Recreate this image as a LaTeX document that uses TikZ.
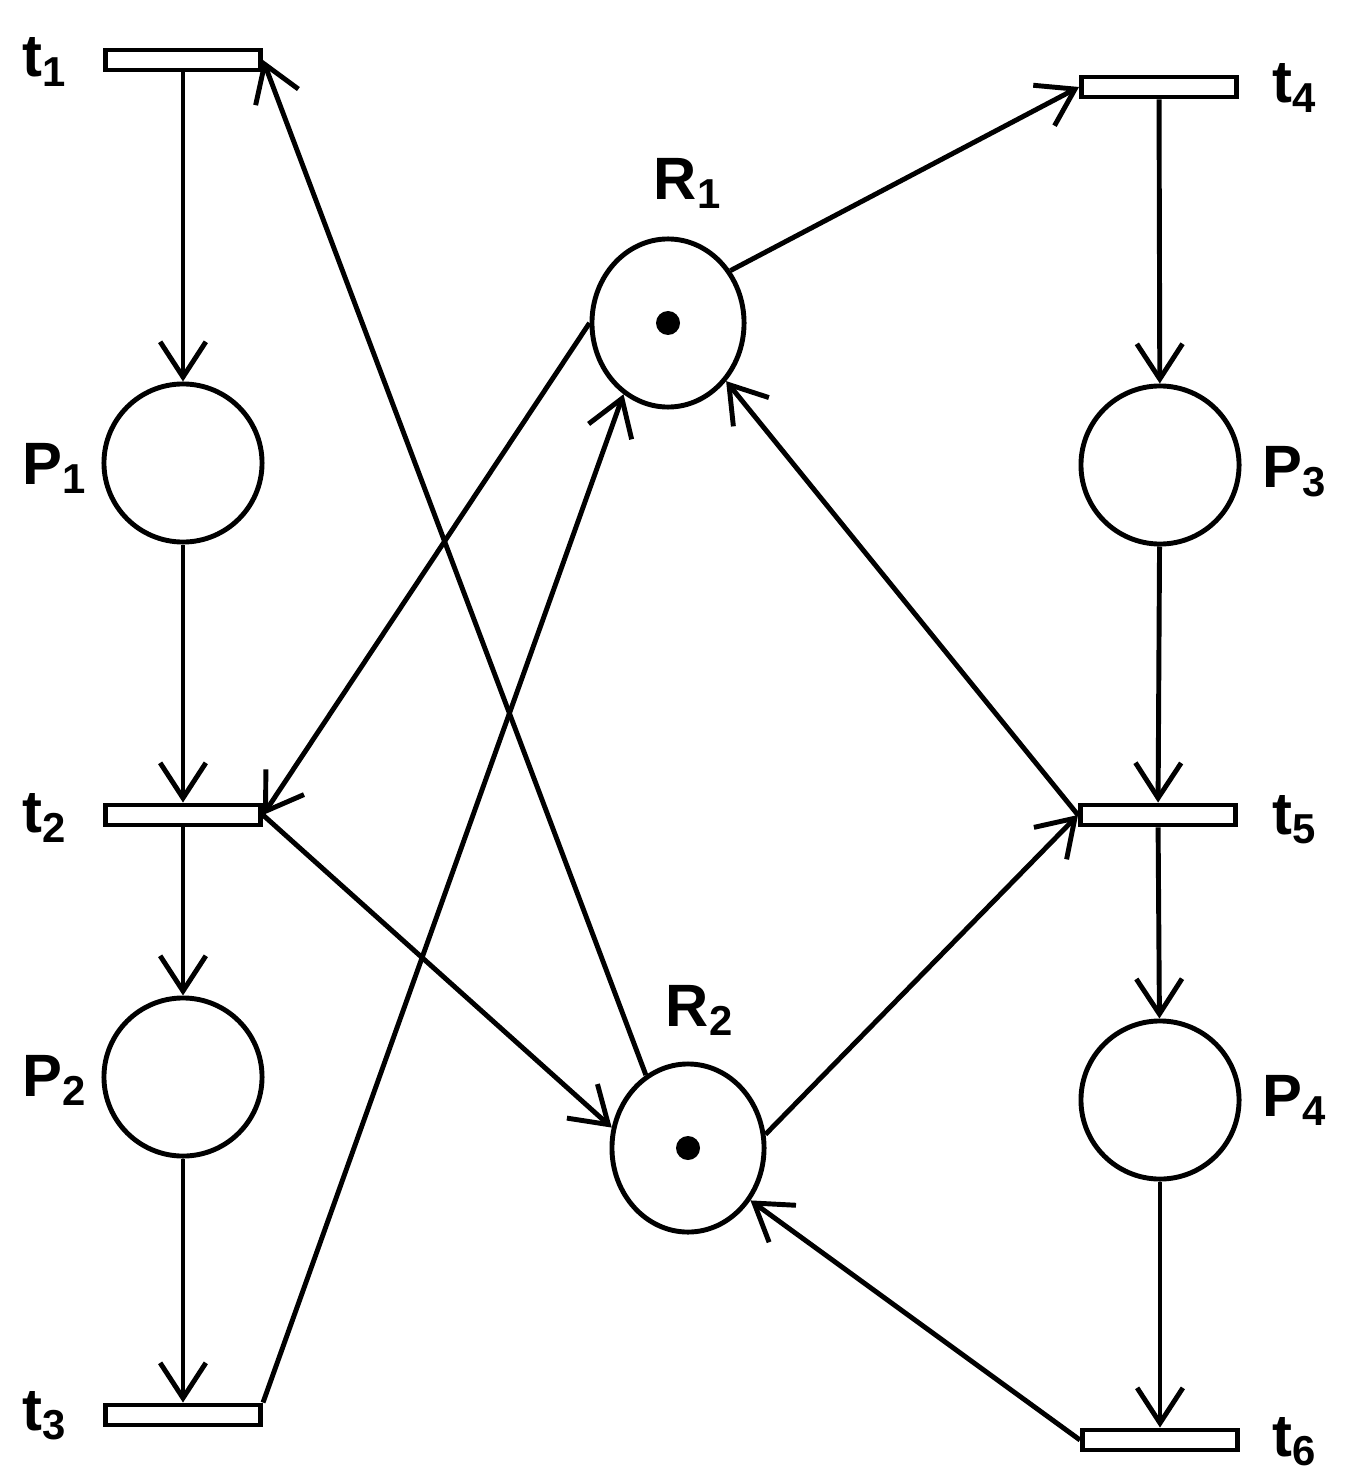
\documentclass[tikz,border=0pt]{standalone}
\usepackage{fontspec}
\setmainfont{Liberation Sans}
\usetikzlibrary{arrows.meta,shapes.geometric}
\begin{document}
\begin{tikzpicture}[x=0.01cm,y=-0.01cm,
  bar/.style={draw,line width=1.4pt,minimum width=1.55cm,minimum height=0.2cm,inner sep=0pt},
  pl/.style={draw,line width=1.4pt,circle,minimum size=1.58cm,inner sep=0pt},
  rs/.style={draw,line width=1.4pt,ellipse,minimum width=1.52cm,minimum height=1.68cm,inner sep=0pt},
  lb/.style={font=\fontsize{17}{17}\selectfont\bfseries},
  arr/.style={line width=1.4pt,-{Straight Barb[length=10pt,width=13pt,line width=1.4pt]}}]
\useasboundingbox (0,0) rectangle (1344,1473);
\node[bar] (t1) at (183,60) {};
\node[bar] (t2) at (183,815) {};
\node[bar] (t3) at (183,1415) {};
\node[bar] (t4) at (1159,87) {};
\node[bar] (t5) at (1158,815) {};
\node[bar] (t6) at (1160,1440) {};
\node[pl] (P1) at (183,463) {};
\node[pl] (P2) at (183,1077) {};
\node[pl] (P3) at (1160,465) {};
\node[pl] (P4) at (1160,1100) {};
\node[rs] (R1) at (668,323) {};
\node[rs] (R2) at (688,1148) {};
\fill (R1.center) circle (12);
\fill (R2.center) circle (12);
\node[lb] (l1) at (45,62) {t$_\mathbf{1}$};
\node[lb] (l2) at (45,818) {t$_\mathbf{2}$};
\node[lb] (l3) at (45,1416) {t$_\mathbf{3}$};
\node[lb] (l4) at (1295,88) {t$_\mathbf{4}$};
\node[lb] (l5) at (1295,820) {t$_\mathbf{5}$};
\node[lb] (l6) at (1295,1442) {t$_\mathbf{6}$};
\node[lb] (lp1) at (55,468) {P$_\mathbf{1}$};
\node[lb] (lp2) at (55,1080) {P$_\mathbf{2}$};
\node[lb] (lp3) at (1295,472) {P$_\mathbf{3}$};
\node[lb] (lp4) at (1295,1100) {P$_\mathbf{4}$};
\node[lb] (lr1) at (688,183) {R$_\mathbf{1}$};
\node[lb] (lr2) at (700,1010) {R$_\mathbf{2}$};
\draw[arr] (t1) -- (P1);
\draw[arr] (P1) -- (t2);
\draw[arr] (t2) -- (P2);
\draw[arr] (P2) -- (t3);
\draw[arr] (t4) -- (P3);
\draw[arr] (P3) -- (t5);
\draw[arr] (t5) -- (P4);
\draw[arr] (P4) -- (t6);
\draw[arr] (R2.120) -- (t1.east);
\draw[arr] (R1.180) -- (t2.east);
\draw[arr] (t2.east) -- (R2.165);
\draw[arr] (t3.north east) -- (R1.238);
\draw[arr] (R1.40) -- (t4.west);
\draw[arr] (t5.west) -- (R1.-45);
\draw[arr] (R2.10) -- (t5.west);
\draw[arr] (t6.west) -- (R2.-40);
\end{tikzpicture}
\end{document}
